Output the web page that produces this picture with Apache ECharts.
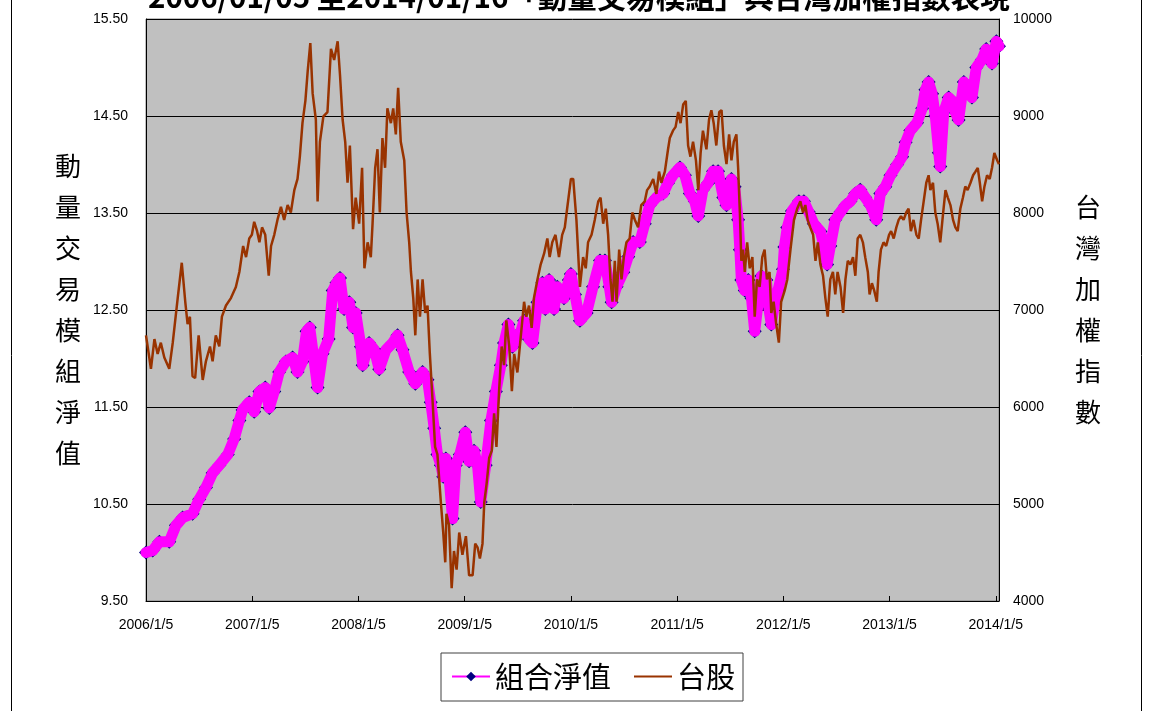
<!DOCTYPE html>
<html>
<head>
<meta charset="utf-8">
<script src="https://cdn.jsdelivr.net/npm/echarts@6/dist/echarts.min.js"></script>
<style>
html,body{margin:0;padding:0;background:#fff;}
#chart{width:1149px;height:711px;}
</style>
</head>
<body>
<div id="chart"></div>
<script>
const titleText = '2006/01/05 至2014/01/16「動量交易模組」與台灣加權指數表現';
const leftAxisName = '動量交易模組淨值';
const rightAxisName = '台灣加權指數';
const navName = '組合淨值';
const taiexName = '台股';
const xTickLabels = ['2006/1/5','2007/1/5','2008/1/5','2009/1/5','2010/1/5','2011/1/5','2012/1/5','2013/1/5','2014/1/5'];
const startDate = '2006-01-05';
const endDate = '2014-01-16';

const navDates = ['2006-01-05','2006-01-28','2006-02-20','2006-03-26','2006-04-18','2006-05-11','2006-06-14','2006-07-07','2006-07-30','2006-08-22','2006-09-14','2006-10-13','2006-11-04','2006-11-22','2006-12-03','2006-12-26',
'2007-01-12','2007-01-30','2007-02-19','2007-03-05','2007-03-22','2007-04-08','2007-05-01','2007-05-24','2007-06-10','2007-06-27','2007-07-11','2007-07-22','2007-08-03','2007-08-18','2007-09-04','2007-09-25','2007-10-09','2007-10-22','2007-11-03','2007-11-17','2007-12-05','2007-12-18','2007-12-27',
'2008-01-14','2008-01-20','2008-02-11','2008-02-29','2008-03-17','2008-04-09','2008-05-02','2008-05-19','2008-06-05','2008-06-28','2008-07-19','2008-08-13','2008-08-30','2008-09-10','2008-09-22','2008-10-03','2008-10-15','2008-10-23','2008-11-01','2008-11-12','2008-11-24','2008-12-05','2008-12-19',
'2009-01-07','2009-01-20','2009-02-06','2009-02-18','2009-03-01','2009-03-18','2009-04-05','2009-04-22','2009-05-09','2009-05-20','2009-06-04','2009-06-18','2009-06-29','2009-07-17','2009-07-28','2009-08-14','2009-08-26','2009-09-12','2009-09-29','2009-10-09','2009-10-22','2009-11-08','2009-11-19','2009-12-12','2009-12-29',
'2010-01-05','2010-01-19','2010-02-05','2010-02-28','2010-03-22','2010-04-15','2010-05-02','2010-05-17','2010-05-25','2010-06-11','2010-07-04','2010-07-21','2010-08-07','2010-08-30','2010-09-16','2010-10-03','2010-10-26','2010-11-18','2010-12-05','2010-12-22',
'2011-01-15','2011-02-01','2011-02-18','2011-03-07','2011-03-19','2011-04-04','2011-04-22','2011-05-09','2011-05-26','2011-06-13','2011-06-24','2011-07-11','2011-07-22','2011-08-03','2011-08-09','2011-08-14','2011-08-26','2011-09-07','2011-09-18','2011-09-29','2011-10-11','2011-10-22','2011-11-08','2011-11-17','2011-11-25','2011-12-07','2011-12-18',
'2012-01-04','2012-01-09','2012-01-19','2012-02-04','2012-02-28','2012-03-16','2012-04-02','2012-04-19','2012-05-12','2012-05-24','2012-06-04','2012-06-15','2012-07-02','2012-07-20','2012-08-06','2012-08-23','2012-09-09','2012-09-26','2012-10-13','2012-10-31','2012-11-20','2012-12-04','2012-12-21',
'2013-01-08','2013-01-31','2013-02-17','2013-03-01','2013-03-17','2013-04-09','2013-04-27','2013-05-08','2013-05-19','2013-05-31','2013-06-11','2013-06-23','2013-06-28','2013-07-10','2013-07-27','2013-08-07','2013-08-19','2013-08-30','2013-09-17','2013-10-04','2013-10-15','2013-10-30','2013-11-18','2013-12-03','2013-12-23',
'2014-01-07','2014-01-16'];
const navValues = [10.00,10.02,10.11,10.11,10.28,10.36,10.40,10.55,10.67,10.82,10.90,11.01,11.17,11.36,11.47,11.55,
11.45,11.66,11.70,11.49,11.66,11.86,11.97,12.01,11.86,11.97,12.28,12.32,12.05,11.70,12.05,12.20,12.70,12.78,12.83,12.51,12.58,12.32,12.47,
12.12,11.93,12.16,12.09,11.89,12.09,12.16,12.24,12.09,11.86,11.74,11.86,11.78,11.55,11.28,11.01,10.90,10.78,10.97,10.78,10.35,10.90,11.01,
11.24,10.94,11.05,10.90,10.52,10.90,11.36,11.66,11.93,12.16,12.35,12.12,12.20,12.28,12.39,12.20,12.16,12.58,12.78,12.51,12.81,12.51,12.74,12.62,12.81,
12.87,12.66,12.39,12.47,12.74,13.01,13.01,12.74,12.58,12.74,12.89,13.05,13.20,13.20,13.39,13.58,13.66,13.70,13.81,13.89,
13.97,13.89,13.70,13.62,13.47,13.74,13.81,13.93,13.93,13.66,13.58,13.85,13.77,13.43,13.12,12.81,12.70,12.81,12.62,12.28,12.58,12.85,12.81,12.51,12.35,12.58,12.70,
12.92,13.15,13.35,13.52,13.62,13.62,13.51,13.39,13.31,13.16,12.97,13.16,13.43,13.51,13.58,13.62,13.70,13.74,13.66,13.58,13.43,13.70,13.77,
13.89,14.00,14.08,14.23,14.35,14.43,14.58,14.77,14.85,14.73,14.50,14.12,13.98,14.54,14.69,14.66,14.54,14.46,14.85,14.77,14.69,15.00,15.08,15.19,15.04,
15.27,15.22];

const taiexDates = ['2006-01-05','2006-01-22','2006-02-03','2006-02-14','2006-02-25','2006-03-09','2006-03-26','2006-04-07','2006-04-24','2006-05-08','2006-05-20','2006-05-28','2006-06-05','2006-06-14','2006-06-23','2006-07-05','2006-07-19','2006-07-30','2006-08-13','2006-08-22','2006-09-02','2006-09-14','2006-09-23','2006-10-07','2006-10-24','2006-11-10','2006-11-22','2006-12-05','2006-12-15','2006-12-26',
'2007-01-04','2007-01-12','2007-01-22','2007-01-30','2007-02-08','2007-02-19','2007-03-03','2007-03-11','2007-03-22','2007-04-02','2007-04-14','2007-04-25','2007-05-07','2007-05-18','2007-05-30','2007-06-10','2007-06-18','2007-06-27','2007-07-07','2007-07-15','2007-07-24','2007-08-01','2007-08-12','2007-08-18','2007-08-26','2007-09-07','2007-09-21','2007-10-03','2007-10-14','2007-10-26','2007-11-03','2007-11-12','2007-11-21','2007-11-29','2007-12-07','2007-12-18','2007-12-27',
'2008-01-08','2008-01-18','2008-01-26','2008-02-06','2008-02-17','2008-02-23','2008-03-03','2008-03-11','2008-03-19','2008-03-28','2008-04-06','2008-04-14','2008-04-26','2008-05-04','2008-05-13','2008-05-21','2008-05-30','2008-06-11','2008-06-19','2008-06-28','2008-07-04','2008-07-12','2008-07-19','2008-07-27','2008-08-04','2008-08-13','2008-08-22','2008-08-30','2008-09-07','2008-09-16','2008-09-25','2008-10-03','2008-10-15','2008-10-23','2008-10-30','2008-11-03','2008-11-12','2008-11-21','2008-11-29','2008-12-08','2008-12-17','2008-12-28',
'2009-01-09','2009-01-20','2009-02-01','2009-02-10','2009-02-18','2009-02-26','2009-03-07','2009-03-13','2009-03-21','2009-03-30','2009-04-08','2009-04-16','2009-04-24','2009-05-03','2009-05-12','2009-05-20','2009-05-28','2009-06-07','2009-06-16','2009-06-24','2009-07-05','2009-07-17','2009-07-28','2009-08-05','2009-08-14','2009-08-23','2009-08-31','2009-09-12','2009-09-23','2009-10-05','2009-10-16','2009-10-24','2009-11-02','2009-11-13','2009-11-25','2009-12-06','2009-12-15','2009-12-23',
'2010-01-05','2010-01-13','2010-01-24','2010-02-05','2010-02-16','2010-02-25','2010-03-05','2010-03-17','2010-03-28','2010-04-09','2010-04-17','2010-04-26','2010-05-05','2010-05-13','2010-05-21','2010-05-28','2010-06-05','2010-06-11','2010-06-20','2010-06-28','2010-07-06','2010-07-15','2010-07-26','2010-08-04','2010-08-13','2010-08-24','2010-09-04','2010-09-16','2010-09-24','2010-10-03','2010-10-15','2010-10-26','2010-11-04','2010-11-12','2010-11-24','2010-12-05','2010-12-11','2010-12-22','2010-12-31',
'2011-01-09','2011-01-17','2011-01-26','2011-02-04','2011-02-12','2011-02-20','2011-03-01','2011-03-11','2011-03-19','2011-03-27','2011-04-04','2011-04-16','2011-04-25','2011-05-03','2011-05-11','2011-05-20','2011-05-30','2011-06-07','2011-06-15','2011-06-24','2011-07-03','2011-07-11','2011-07-19','2011-07-28','2011-08-03','2011-08-09','2011-08-14','2011-08-20','2011-08-26','2011-09-03','2011-09-12','2011-09-21','2011-09-29','2011-10-07','2011-10-16','2011-10-25','2011-11-02','2011-11-10','2011-11-19','2011-11-25','2011-12-03','2011-12-12','2011-12-21','2011-12-29',
'2012-01-10','2012-01-19','2012-01-30','2012-02-11','2012-02-22','2012-03-04','2012-03-13','2012-03-21','2012-03-29','2012-04-07','2012-04-17','2012-04-25','2012-05-03','2012-05-12','2012-05-21','2012-05-29','2012-06-06','2012-06-15','2012-06-24','2012-07-02','2012-07-10','2012-07-20','2012-07-29','2012-08-06','2012-08-14','2012-08-23','2012-09-01','2012-09-09','2012-09-17','2012-09-26','2012-10-05','2012-10-13','2012-10-22','2012-10-28','2012-11-05','2012-11-13','2012-11-22','2012-11-28','2012-12-06','2012-12-15','2012-12-24',
'2013-01-03','2013-01-10','2013-01-19','2013-01-28','2013-02-05','2013-02-13','2013-02-22','2013-03-03','2013-03-11','2013-03-19','2013-03-28','2013-04-07','2013-04-15','2013-04-23','2013-05-02','2013-05-11','2013-05-19','2013-05-25','2013-06-03','2013-06-11','2013-06-19','2013-06-28','2013-07-08','2013-07-16','2013-07-24','2013-08-02','2013-08-11','2013-08-19','2013-08-27','2013-09-05','2013-09-14','2013-09-22','2013-09-30','2013-10-10','2013-10-19','2013-10-27','2013-11-04','2013-11-11','2013-11-19','2013-11-27','2013-12-06','2013-12-15','2013-12-23','2013-12-31',
'2014-01-10','2014-01-16'];
const taiexValues = [6739,6394,6700,6547,6663,6510,6394,6663,7123,7487,7085,6854,6931,6317,6298,6739,6279,6471,6624,6471,6739,6624,6931,7046,7123,7238,7392,7660,7545,7737,
7775,7909,7813,7698,7852,7775,7353,7660,7775,7929,8063,7929,8082,8005,8236,8351,8581,8926,9156,9463,9751,9233,8964,8120,8734,8997,9041,9693,9578,9770,9425,8964,8734,8312,8696,7833,8159,
7890,8466,7430,7698,7545,7890,8466,8657,8005,8772,8466,9079,8926,9079,8811,9290,8734,8542,8005,7698,7392,7123,6739,7315,6931,7315,6970,7046,6547,6087,5589,5512,5013,4706,4399,4898,4783,4131,4515,4323,4706,4476,
4668,4265,4265,4591,4553,4438,4591,5013,5205,5474,5550,5934,5589,6164,6624,6432,6893,6624,6164,6547,6356,6739,7085,6931,7046,6816,7123,7315,7468,7583,7737,7545,7698,7775,7545,7775,7852,8044,
8351,8351,7929,7238,7545,7430,7698,7775,7929,8120,8159,7890,8044,7775,7315,7085,7507,7085,7622,7315,7545,7698,7737,8005,7929,7852,8082,8120,8236,8274,8351,8197,8427,8312,8427,8657,8772,8849,8888,
9041,8926,9118,9156,8696,8581,8734,8542,8236,8619,8849,8657,8964,9060,8926,8696,9041,9060,8696,8504,8811,8542,8734,8811,8466,8005,7507,7622,7392,7698,7430,7545,6931,7315,7238,7545,7622,7315,7392,6970,7085,6854,6663,7085,
7200,7315,7622,7929,8044,8120,8005,8082,7929,7852,7775,7507,7698,7468,7353,7123,6931,7315,7392,7161,7392,7238,6970,7315,7507,7468,7545,7353,7737,7775,7698,7545,7392,7161,7277,7200,7085,7392,7622,7698,7660,
7775,7813,7737,7852,7929,7967,7929,8005,8044,7813,7929,7775,7737,7929,8120,8312,8389,8236,8312,8005,7890,7698,8005,8236,8159,8082,7929,7852,7813,8044,8159,8274,8236,8312,8389,8427,8466,8312,8120,8274,8389,8351,8466,8619,
8542,8504];

const DAY = 86400000;
function dayOf(s) {
  const p = s.split('-').map(Number);
  const q = startDate.split('-').map(Number);
  return (Date.UTC(p[0], p[1] - 1, p[2]) - Date.UTC(q[0], q[1] - 1, q[2])) / DAY;
}
const YEAR = 365.25;
const navData = navDates.map((d, i) => [dayOf(d), navValues[i]]);
const taiexData = taiexDates.map((d, i) => [dayOf(d), taiexValues[i]]);

const latin = "'Liberation Sans', Arial, sans-serif";
const cjk = "'Noto Sans CJK TC', 'Noto Sans CJK SC', sans-serif";

const chart = echarts.init(document.getElementById('chart'), null, {renderer: 'canvas'});
chart.setOption({
  animation: false,
  backgroundColor: '#ffffff',
  title: {
    text: titleText,
    left: 143,
    top: -23,
    textStyle: {fontSize: 29.5, fontWeight: 'bold', color: '#000', fontFamily: cjk}
  },
  graphic: [{
    type: 'rect',
    left: 9, top: -5,
    shape: {width: 1130, height: 730},
    style: {fill: 'none', stroke: '#000', lineWidth: 1},
    silent: true, z: 100
  }],
  legend: {
    left: 441, top: 653,
    itemWidth: 38, itemHeight: 12, itemGap: 22,
    padding: [9, 8, 10, 10],
    borderColor: '#404040', borderWidth: 1, backgroundColor: '#fff',
    textStyle: {fontSize: 29, color: '#000', fontFamily: cjk},
    data: [
      {name: navName},
      {name: taiexName, itemStyle: {color: 'rgba(0,0,0,0)', borderWidth: 0, borderColor: 'rgba(0,0,0,0)'}}
    ]
  },
  grid: {left: 146, right: 150, top: 19, bottom: 110, show: true, backgroundColor: '#C0C0C0', borderColor: '#808080', borderWidth: 1},
  xAxis: {
    type: 'value',
    min: 0, max: dayOf(endDate), interval: YEAR,
    axisLine: {lineStyle: {color: '#000', width: 1}},
    axisTick: {inside: true, length: 5, lineStyle: {color: '#000'}},
    splitLine: {show: false},
    axisLabel: {
      margin: 17, fontSize: 14, color: '#000', fontFamily: latin,
      formatter: function (v) {
        const k = Math.round(v / YEAR);
        return Math.abs(v - k * YEAR) < 0.01 && xTickLabels[k] ? xTickLabels[k] : '';
      }
    }
  },
  yAxis: [{
    type: 'value', position: 'left',
    min: 9.5, max: 15.5, interval: 1,
    name: leftAxisName.split('').join('\n'),
    nameLocation: 'middle', nameRotate: 0, nameGap: 65,
    nameTextStyle: {fontSize: 26, lineHeight: 41, color: '#000', fontFamily: cjk},
    axisLine: {show: true, lineStyle: {color: '#000'}},
    axisTick: {show: true, inside: true, length: 5, lineStyle: {color: '#000'}},
    splitLine: {show: true, lineStyle: {color: '#000', width: 1}},
    axisLabel: {margin: 18, fontSize: 14, color: '#000', fontFamily: latin, formatter: v => v.toFixed(2)}
  }, {
    type: 'value', position: 'right',
    min: 4000, max: 10000, interval: 1000,
    name: rightAxisName.split('').join('\n'),
    nameLocation: 'middle', nameRotate: 0, nameGap: 76,
    nameTextStyle: {fontSize: 26, lineHeight: 41, color: '#000', fontFamily: cjk},
    axisLine: {show: true, lineStyle: {color: '#000'}},
    axisTick: {show: true, inside: true, length: 5, lineStyle: {color: '#000'}},
    splitLine: {show: false},
    axisLabel: {margin: 14, fontSize: 14, color: '#000', fontFamily: latin, formatter: v => String(v)}
  }],
  series: [{
    name: navName, type: 'line', yAxisIndex: 0,
    data: navData,
    symbol: 'diamond', symbolSize: 14, showSymbol: true, showAllSymbol: true,
    itemStyle: {color: '#000080', borderWidth: 0},
    lineStyle: {color: '#FF00FF', width: 2},
    z: 2
  }, {
    name: navName, type: 'line', yAxisIndex: 0,
    data: navData,
    symbol: 'none',
    lineStyle: {color: '#FF00FF', width: 11, join: 'round', cap: 'round'},
    itemStyle: {color: '#FF00FF'},
    z: 3
  }, {
    name: taiexName, type: 'line', yAxisIndex: 1,
    data: taiexData,
    symbol: 'none',
    lineStyle: {color: '#993300', width: 2.5},
    itemStyle: {color: '#993300'},
    z: 4
  }]
});
</script>
</body>
</html>
